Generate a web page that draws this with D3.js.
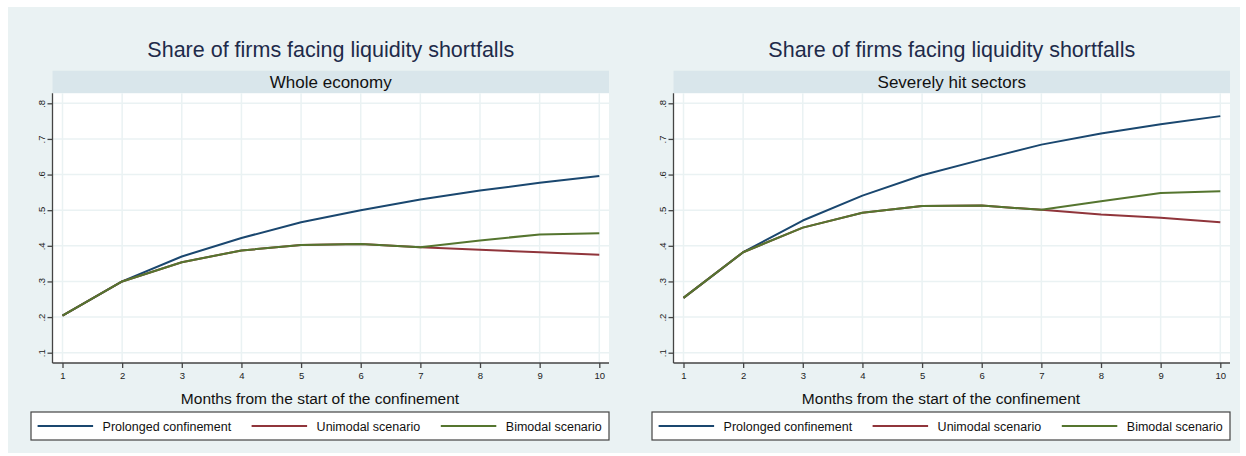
<!DOCTYPE html>
<html>
<head>
<meta charset="utf-8">
<script src="https://cdn.jsdelivr.net/npm/d3@7"></script>
<style>
    body { margin: 0; background: #fff; }
    svg text { font-family: "Liberation Sans", Arial, sans-serif; }
</style>
</head>
<body>
<div id="chart"></div>
<script>
// months on the x axis
var months = [1, 2, 3, 4, 5, 6, 7, 8, 9, 10];
var yTicks = [0.1, 0.2, 0.3, 0.4, 0.5, 0.6, 0.7, 0.8];
var yTickLabels = ['.1', '.2', '.3', '.4', '.5', '.6', '.7', '.8'];

var seriesNames = ['Prolonged confinement', 'Unimodal scenario', 'Bimodal scenario'];
var seriesColors = ['#1a476f', '#90353b', '#55752f'];

// whole economy
var wholeProlonged = [0.204, 0.300, 0.370, 0.422, 0.466, 0.500, 0.530, 0.555, 0.577, 0.596];
var wholeUnimodal  = [0.204, 0.300, 0.354, 0.387, 0.402, 0.405, 0.396, 0.389, 0.382, 0.375];
var wholeBimodal   = [0.204, 0.300, 0.354, 0.387, 0.402, 0.405, 0.396, 0.415, 0.432, 0.435];

// severely hit sectors
var severeProlonged = [0.254, 0.382, 0.471, 0.541, 0.598, 0.642, 0.684, 0.715, 0.741, 0.764];
var severeUnimodal  = [0.254, 0.382, 0.451, 0.493, 0.512, 0.513, 0.501, 0.488, 0.479, 0.466];
var severeBimodal   = [0.254, 0.382, 0.451, 0.493, 0.512, 0.513, 0.501, 0.525, 0.548, 0.553];

var panels = [
    { title: 'Share of firms facing liquidity shortfalls', strip: 'Whole economy',
      series: [wholeProlonged, wholeUnimodal, wholeBimodal], offset: 0 },
    { title: 'Share of firms facing liquidity shortfalls', strip: 'Severely hit sectors',
      series: [severeProlonged, severeUnimodal, severeBimodal], offset: 621 }
];

var svg = d3.select('#chart')
    .append('svg')
    .attr('width', 1246)
    .attr('height', 456);

svg.append('rect')
    .attr('x', 8).attr('y', 7)
    .attr('width', 1232).attr('height', 446)
    .attr('fill', '#eaf2f3');

function drawPanel(p) {
    var plotLeft = 52.5, plotRight = 609, plotTop = 93.3, plotBottom = 363;
    var g = svg.append('g').attr('transform', 'translate(' + p.offset + ',0)');

    var x = d3.scaleLinear().domain([1, 10]).range([62.5, 599.3]);
    var y = d3.scaleLinear().domain([0.1, 0.8]).range([352.7, 103.3]);

    // title
    g.append('text')
        .attr('x', (plotLeft + plotRight) / 2)
        .attr('y', 57)
        .attr('text-anchor', 'middle')
        .attr('font-size', '21.5px')
        .attr('fill', '#1e2b4a')
        .text(p.title);

    // strip
    g.append('rect')
        .attr('x', plotLeft).attr('y', 70.7)
        .attr('width', plotRight - plotLeft).attr('height', plotTop - 70.7)
        .attr('fill', '#d9e6eb');
    g.append('text')
        .attr('x', (plotLeft + plotRight) / 2)
        .attr('y', 88)
        .attr('text-anchor', 'middle')
        .attr('font-size', '17px')
        .attr('fill', '#111')
        .text(p.strip);

    // plot area
    g.append('rect')
        .attr('x', plotLeft).attr('y', plotTop)
        .attr('width', plotRight - plotLeft).attr('height', plotBottom - plotTop)
        .attr('fill', '#fff');

    // grid
    g.selectAll('line.hgrid')
        .data(yTicks)
        .enter()
        .append('line')
        .attr('class', 'hgrid')
        .attr('x1', plotLeft).attr('x2', plotRight)
        .attr('y1', function(d) { return y(d); })
        .attr('y2', function(d) { return y(d); })
        .attr('stroke', '#eaf2f3')
        .attr('stroke-width', 1.5);
    g.selectAll('line.vgrid')
        .data(months)
        .enter()
        .append('line')
        .attr('class', 'vgrid')
        .attr('y1', plotTop).attr('y2', plotBottom)
        .attr('x1', function(d) { return x(d); })
        .attr('x2', function(d) { return x(d); })
        .attr('stroke', '#eaf2f3')
        .attr('stroke-width', 1.5);

    // axes
    var xAxis = g.append('g')
        .attr('transform', 'translate(0,' + plotBottom + ')')
        .call(d3.axisBottom(x).tickValues(months).tickSize(5).tickPadding(4).tickFormat(d3.format('d')));
    xAxis.select('.domain').attr('d', 'M' + plotLeft + ',0H' + plotRight).attr('stroke', '#444').attr('stroke-width', 1.3);
    xAxis.selectAll('.tick line').attr('stroke', '#444').attr('stroke-width', 1.3);
    xAxis.selectAll('.tick text')
        .attr('font-size', '9.5px')
        .attr('font-family', '"Liberation Sans", Arial, sans-serif')
        .attr('fill', '#222');

    var yAxis = g.append('g')
        .attr('transform', 'translate(' + plotLeft + ',0)')
        .call(d3.axisLeft(y).tickValues(yTicks).tickSize(5).tickFormat(function(d, i) { return yTickLabels[i]; }));
    yAxis.select('.domain').attr('d', 'M0,' + plotTop + 'V' + plotBottom).attr('stroke', '#444').attr('stroke-width', 1.3);
    yAxis.selectAll('.tick line').attr('stroke', '#444').attr('stroke-width', 1.3);
    yAxis.selectAll('.tick text')
        .attr('font-size', '9.5px')
        .attr('font-family', '"Liberation Sans", Arial, sans-serif')
        .attr('fill', '#222')
        .attr('x', null).attr('dy', null)
        .attr('text-anchor', 'middle')
        .attr('transform', 'translate(-11,0) rotate(-90)')
        .attr('y', 0)
        .attr('dy', '0.32em');

    // axis title
    g.append('text')
        .attr('x', 320)
        .attr('y', 404)
        .attr('text-anchor', 'middle')
        .attr('font-size', '15.5px')
        .attr('fill', '#111')
        .text('Months from the start of the confinement');

    // lines
    var line = d3.line()
        .x(function(d, i) { return x(months[i]); })
        .y(function(d) { return y(d); });

    g.selectAll('path.series')
        .data(p.series)
        .enter()
        .append('path')
        .attr('class', 'series')
        .attr('d', line)
        .attr('fill', 'none')
        .attr('stroke', function(d, i) { return seriesColors[i]; })
        .attr('stroke-width', 2)
        .attr('stroke-linejoin', 'round');

    // legend
    var lg = g.append('g').attr('transform', 'translate(31,412)');
    lg.append('rect')
        .attr('x', 0).attr('y', 0)
        .attr('width', 578).attr('height', 28)
        .attr('fill', '#fff')
        .attr('stroke', '#444')
        .attr('stroke-width', 1.2);
    var entryX = [6.6, 220.6, 409.8];
    var item = lg.selectAll('g.item')
        .data(seriesNames)
        .enter()
        .append('g')
        .attr('class', 'item')
        .attr('transform', function(d, i) { return 'translate(' + entryX[i] + ',0)'; });
    item.append('line')
        .attr('x1', 0).attr('x2', 55.5)
        .attr('y1', 14).attr('y2', 14)
        .attr('stroke', function(d, i) { return seriesColors[i]; })
        .attr('stroke-width', 2);
    item.append('text')
        .attr('x', 65)
        .attr('y', 18.5)
        .attr('font-size', '12.5px')
        .attr('fill', '#111')
        .text(function(d) { return d; });
}

panels.forEach(drawPanel);
</script>
</body>
</html>
